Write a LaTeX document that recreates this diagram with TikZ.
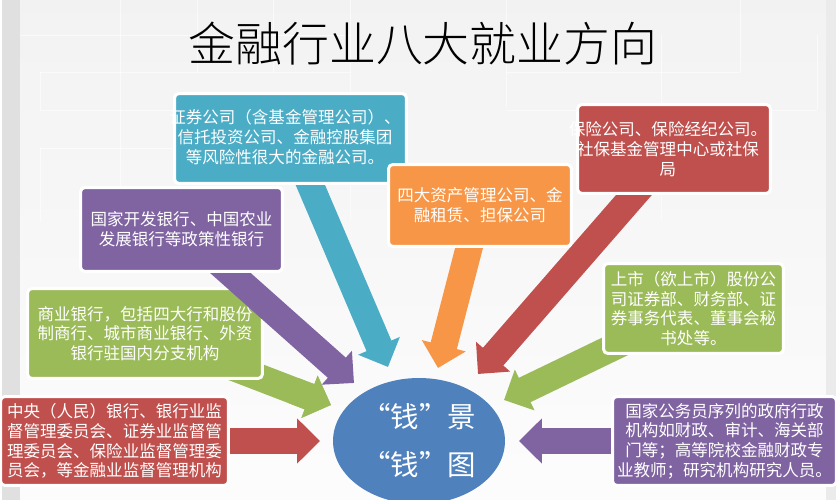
\documentclass[tikz,border=0pt]{standalone}
\usepackage{fontspec}
\setmainfont{Noto Sans CJK SC}
\newfontfamily\titlefont{Noto Sans CJK SC Light}
\usetikzlibrary{arrows.meta,shapes.geometric,calc}
\pgfdeclarelayer{backdrop}
\pgfdeclarelayer{arrows}
\pgfdeclarelayer{upper}
\pgfdeclarelayer{top}
\pgfsetlayers{backdrop,arrows,main,upper,top}
\definecolor{tealbox}{HTML}{4BACC6}
\definecolor{purplebox}{HTML}{8064A2}
\definecolor{orangebox}{HTML}{F79646}
\definecolor{redbox}{HTML}{C0504D}
\definecolor{greenbox}{HTML}{9BBB59}
\definecolor{bluecircle}{HTML}{4F81BD}
\tikzset{
  jobbox/.style={rectangle,rounded corners=2.5pt,draw=white,line width=1.7pt,fill=#1,
    text=white,inner sep=0pt,align=center,font=\fontsize{9.4}{11.2}\selectfont},
  boxtext/.style={text=white,inner sep=0pt,align=center,font=\fontsize{9.4}{11.2}\selectfont},
  fatarrow/.style={draw=#1,line width=0.54cm,-{Triangle[length=0.46cm,width=0.88cm]}}
}
\begin{document}
\begin{tikzpicture}[x=0.02cm,y=-0.02cm]
  \useasboundingbox (0,0) rectangle (836,500);

  % Backdrop
  \begin{pgfonlayer}{backdrop}
    \fill[white] (0,0) rectangle (836,500);
    \shade[top color=black!5,bottom color=black!1] (20,0) rectangle (826,500);
    \fill[black!12] (2,0) rectangle (20,500);
    \fill[black!8] (826,0) rectangle (836,500);
    \foreach \xa/\ya/\xb/\yb in {20/35/350/35, 40/72/350/72, 40/110/350/110, 40/148/350/148,
        40/72/40/110, 40/148/40/222, 120/0/120/225, 197/0/197/72, 273/0/273/72, 350/0/350/220,
        506/0/506/107, 506/72/740/72, 506/110/817/110, 740/0/740/72, 661/35/661/220, 817/35/817/110} {
      \draw[white,opacity=0.6,line width=0.5pt] (\xa,\ya) -- (\xb,\yb);
    }
  \end{pgfonlayer}

  % Title
  \node (title) at (423,44) {\titlefont\fontsize{26.7}{30}\selectfont 金融行业八大就业方向};

  % Center
  \node[ellipse,fill=bluecircle,minimum width=3.44cm,minimum height=2.52cm,inner sep=0pt,
    text=white,align=center,font=\fontsize{16.2}{27.3}\selectfont] (money) at (419,441)
    {“钱”景\\“钱”图};

  % Boxes
  \node[jobbox=redbox,minimum width=4.56cm,minimum height=1.78cm] (regulator) at (114.5,441)
    {中央（人民）银行、银行业监\\督管理委员会、证券业监督管\\理委员会、保险业监督管理委\\员会，等金融业监督管理机构};
  \node[jobbox=greenbox,minimum width=4.7cm,minimum height=1.8cm] (commercial) at (145,333.5)
    {商业银行，包括四大行和股份\\制商行、城市商业银行、外资\\银行驻国内分支机构};
  \node[jobbox=tealbox,minimum width=4.64cm,minimum height=1.8cm] (securities) at (290.5,138.5) {};
  \node[boxtext] (securitiestext) at (285,137)
    {证券公司（含基金管理公司）、\\信托投资公司、金融控股集团\\等风险性很大的金融公司。};
  \node[jobbox=orangebox,minimum width=3.66cm,minimum height=1.64cm] (assets) at (480,205.5)
    {四大资产管理公司、金\\融租赁、担保公司};
  \node[jobbox=redbox,minimum width=3.86cm,minimum height=1.78cm] (insurance) at (674,149) {};
  \node[boxtext] (insurancetext) at (668,149)
    {保险公司、保险经纪公司。\\社保基金管理中心或社保\\局};
  \node[jobbox=greenbox,minimum width=3.6cm,minimum height=1.8cm] (listed) at (693.5,308.5)
    {上市（欲上市）股份公\\司证券部、财务部、证\\券事务代表、董事会秘\\书处等。};
  \node[jobbox=purplebox,minimum width=4.48cm,minimum height=1.78cm] (civil) at (724.5,441)
    {国家公务员序列的政府行政\\机构如财政、审计、海关部\\门等；高等院校金融财政专\\业教师；研究机构研究人员。};
  \begin{pgfonlayer}{top}
    \node[jobbox=purplebox,minimum width=4.04cm,minimum height=1.68cm] (policy) at (181.5,229.5)
      {国家开发银行、中国农业\\发展银行等政策性银行};
  \end{pgfonlayer}

  % Arrow ends
  \coordinate (regulatorend) at (320,441);
  \coordinate (commercialend) at (331,405);
  \coordinate (policyend) at (354,383);
  \coordinate (securitiesend) at (388,367);
  \coordinate (assetsend) at (438,368);
  \coordinate (insuranceend) at (478,374);
  \coordinate (listedend) at (504,400);
  \coordinate (civilend) at (519,441);

  % Arrows
  \begin{pgfonlayer}{arrows}
    \draw[fatarrow=redbox] (regulator) -- (regulatorend);
    \draw[fatarrow=greenbox] (commercial.center) -- (commercialend);
    \draw[fatarrow=tealbox] (securities.center) -- (securitiesend);
    \draw[fatarrow=orangebox] (assets.center) -- (assetsend);
    \draw[fatarrow=redbox] (insurance.center) -- (insuranceend);
    \draw[fatarrow=greenbox] (listed.center) -- (listedend);
    \draw[fatarrow=purplebox] (civil) -- (civilend);
  \end{pgfonlayer}
  % purple one crosses the green box, green head goes over it again
  \begin{pgfonlayer}{upper}
    \draw[fatarrow=purplebox] (policy.center) -- (policyend);
    \draw[fatarrow=greenbox] ($(commercial.center)!0.8!(commercialend)$) -- (commercialend);
  \end{pgfonlayer}
\end{tikzpicture}
\end{document}
